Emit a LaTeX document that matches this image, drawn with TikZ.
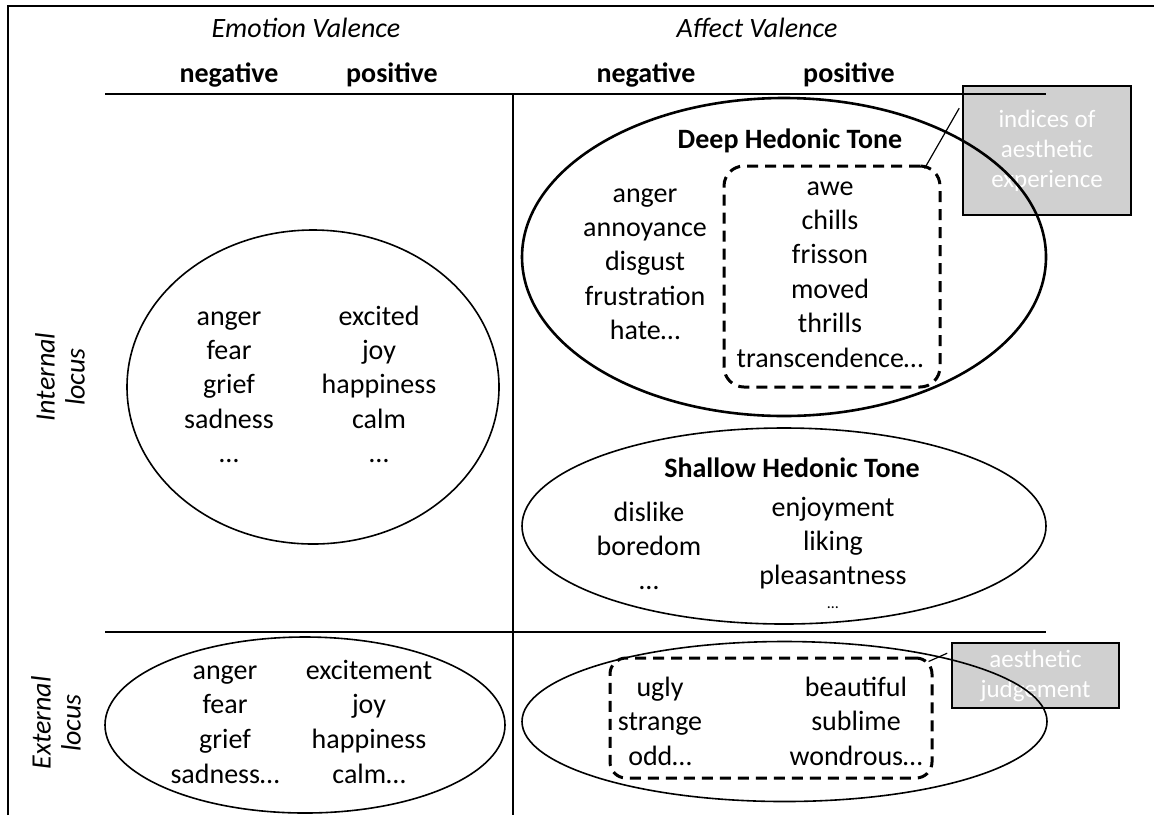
\documentclass[tikz,border=0pt]{standalone}
\usepackage{fontspec}
\setmainfont{Carlito}
\usetikzlibrary{calc}

\definecolor{calloutgray}{RGB}{208,208,208}

\tikzset{
  word/.style={font=\fontsize{14}{17}\selectfont, text height=10pt, text depth=0pt, inner sep=0pt},
  head/.style={word, font=\fontsize{14}{17}\selectfont\bfseries},
  valence/.style={word, font=\fontsize{14}{17}\selectfont\itshape},
  locus/.style={font=\fontsize{14}{15}\selectfont\itshape, align=center, inner sep=0pt, rotate=90},
  dashbox/.style={draw, line width=1.5pt, dash pattern=on 5.5pt off 3.5pt, inner sep=0pt},
  callout/.style={draw, line width=0.8pt, fill=calloutgray, text=white, align=center,
    font=\fontsize{12.5}{15}\selectfont, inner sep=0pt},
}

% one column of words, 34.4px apart
\newcommand\wordcol[5][34.4]{\foreach \w [count=\i] in {#5}
  \node[word] (#2\i) at (#3,{#4+#1*(\i-1)}) {\w};}

\begin{document}
\begin{tikzpicture}[x=0.5pt,y=-0.5pt,line width=1pt]
\useasboundingbox (0,0) rectangle (1154,815);

% callouts
\node[callout, minimum width=84pt, minimum height=64.5pt] (indices) at (1047,150.5)
  {indices of\\aesthetic\\experience};
\node[callout, minimum width=83.5pt, minimum height=32.5pt] (judgement) at (1035.5,675.5)
  {aesthetic\\judgement};

% frame and grid
\draw (8,815) -- (8,6) -- (1154,6);
\draw (105,94) -- (1046,94);
\draw (105,632) -- (1046,632);
\draw[line width=1.2pt] (513,94) -- (513,815);

% headings
\node[valence] (emotion) at (306,27) {Emotion Valence};
\node[valence] (affect) at (757,27) {Affect Valence};
\node[head] (eneghead) at (229,72) {negative};
\node[head] (eposhead) at (392,72) {positive};
\node[head] (aneghead) at (646,72) {negative};
\node[head] (aposhead) at (849,72) {positive};
\node[locus] (internal) at (60,377) {Internal\\locus};
\node[locus] (external) at (56,723) {External\\locus};

% ellipses
\draw[line width=0.8pt] (313,387) ellipse [x radius=93pt, y radius=78.5pt];
\draw[line width=0.8pt] (305,725) ellipse [x radius=100pt, y radius=44pt];
\draw[line width=1.3pt] (784,257) ellipse [x radius=131pt, y radius=79.5pt];
\draw[line width=0.8pt] (784,526) ellipse [x radius=131pt, y radius=49pt];
\draw[line width=0.8pt] (784.5,721.5) ellipse [x radius=131.25pt, y radius=40pt];

% dashed groups
\node[dashbox, rounded corners=10pt, minimum width=108pt, minimum height=110.5pt] (deepbox) at (832,276.5) {};
\node[dashbox, rounded corners=8pt, minimum width=161pt, minimum height=60pt] (judgebox) at (771,718) {};
\draw[line width=0.6pt] ($(deepbox.north east)+(-17,4)$) -- ($(indices.north west)+(-3,23)$);
\draw[line width=0.6pt] ($(judgebox.north east)+(-5,5)$) -- ($(judgement.north west)+(-4,11)$);

% words
\wordcol{ineg}{229}{315}{anger,fear,grief,sadness,…}
\wordcol{ipos}{379}{315}{excited,joy,happiness,calm,…}
\wordcol[34.7]{eneg}{225}{669}{anger,fear,grief,sadness…}
\wordcol[34.7]{epos}{369}{669}{excitement,joy,happiness,calm…}

\node[head] (deep) at (790,138) {Deep Hedonic Tone};
\wordcol{dneg}{645}{192}{anger,annoyance,disgust,frustration,hate…}
\wordcol{dpos}{830}{185}{awe,chills,frisson,moved,thrills,transcendence…}

\node[head] (shallow) at (792,467) {Shallow Hedonic Tone};
\wordcol{sneg}{649}{511}{dislike,boredom,…}
\wordcol{spos}{833}{506}{enjoyment,liking,pleasantness}
\node[font=\fontsize{8}{10}\selectfont, inner sep=0pt, anchor=base] (sposmore) at (833,608) {…};

\wordcol[34.5]{xneg}{660}{686}{ugly,strange,odd…}
\wordcol[34.5]{xpos}{856}{686}{beautiful,sublime,wondrous…}
\end{tikzpicture}
\end{document}
